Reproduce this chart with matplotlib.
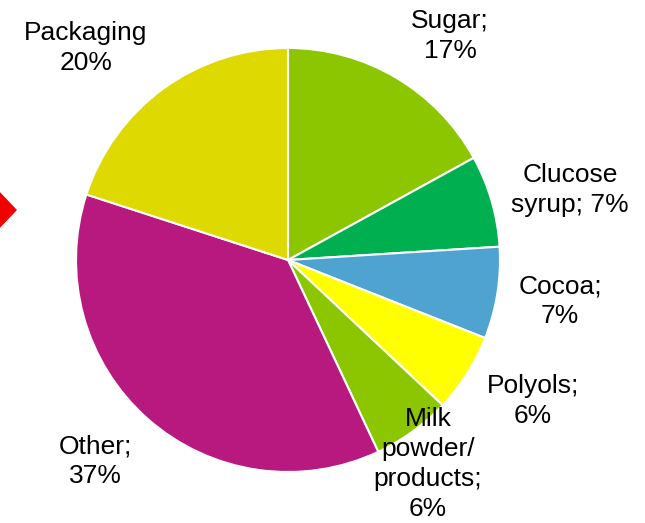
import matplotlib.pyplot as plt
from matplotlib.patches import Polygon

# ─── Data ────────────────────────────────────────────────
labels = ["Sugar;\n17%", "Clucose\nsyrup; 7%", "Cocoa;\n7%", "Polyols;\n6%",
          "Milk\npowder/\nproducts;\n6%", "Other;\n37%", "Packaging\n20%"]
shares = [17, 7, 7, 6, 6, 37, 20]
colors = ["#8CC600", "#00B050", "#4EA3D1", "#FFFF00",
          "#8CC600", "#B8197F", "#DED900"]

# label anchor points in pixel space (x, y from top)
label_pos = [(450, 36), (570, 190), (560, 301), (533, 401),
             (428, 464), (95, 461), (86, 48)]

W, H = 645, 523
fig = plt.figure(figsize=(W / 100, H / 100), dpi=100)
ax = fig.add_axes([0, 0, 1, 1])

ax.pie(shares, colors=colors, startangle=90, counterclock=False,
       center=(288, H - 260), radius=212,
       wedgeprops=dict(edgecolor="white", linewidth=1.5))

# pie() resets the limits, so set the pixel frame afterwards
ax.set_xlim(0, W)
ax.set_ylim(0, H)
ax.set_aspect("equal")
ax.axis("off")

for text, (x, y) in zip(labels, label_pos):
    ax.text(x, H - y, text, ha="center", va="center", fontsize=19,
            family="Liberation Sans", linespacing=1.3, color="black")

# red arrow marker cut off at the left edge
ax.add_patch(Polygon([(-22, H - 210), (-3, H - 190), (16, H - 210), (-3, H - 230)],
                     closed=True, color="#F00000", clip_on=True))

fig.savefig("out.png", dpi=100)
